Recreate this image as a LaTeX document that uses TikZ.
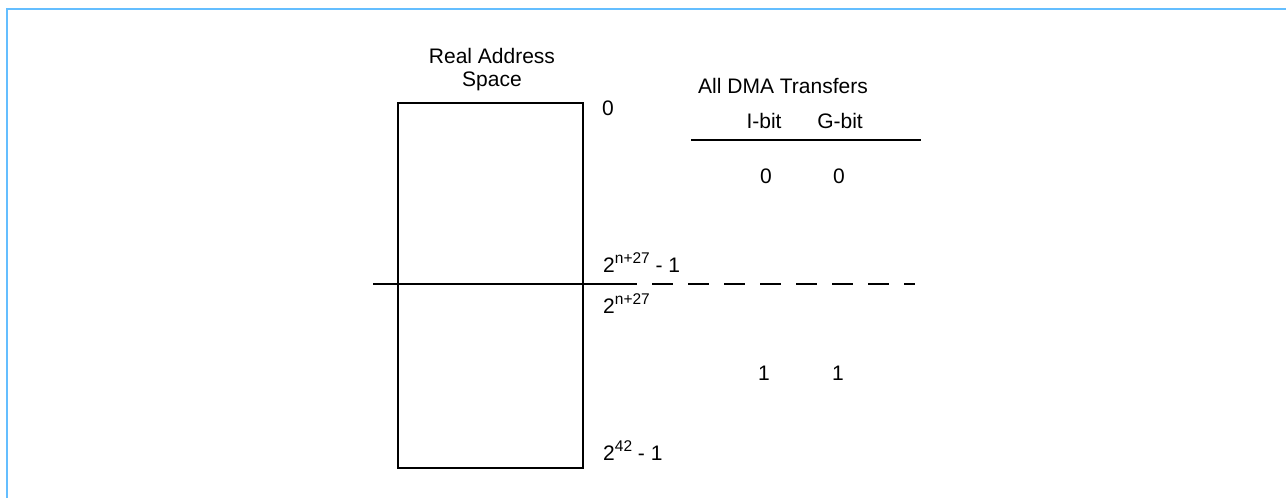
\documentclass[tikz,border=0pt]{standalone}
\usepackage{fontspec}
\setmainfont{Liberation Sans}
\definecolor{frameblue}{RGB}{100,190,255}
\newcommand\supx[1]{\raisebox{0.42em}{\fontsize{15.5}{15.5}\selectfont #1}}
\begin{document}
\begin{tikzpicture}[x=1pt,y=-1pt,
  lbl/.style={inner sep=0pt,font=\fontsize{21}{24}\selectfont},
  rule/.style={line width=1.8pt}]
\useasboundingbox (0,0) rectangle (1286,498);
% frame
\coordinate (f1) at (7,498);
\coordinate (f2) at (7,9);
\coordinate (f3) at (1286,9);
\draw[frameblue,line width=2pt] (f1) -- (f2) -- (f3);
% address space box
\node[draw,rule,minimum width=185pt,minimum height=365pt,outer sep=0pt,inner sep=0pt,anchor=north west] (box) at (398,103) {};
% boundary line
\coordinate (hA) at (373,284);
\coordinate (hB) at (637,284);
\coordinate (hC) at (652,284);
\coordinate (hD) at (915,284);
\draw[rule] (hA) -- (hB);
\draw[rule,dash pattern=on 21pt off 15pt] (hC) -- (hD);
% table rule
\coordinate (tA) at (691,140);
\coordinate (tB) at (921,140);
\draw[rule] (tA) -- (tB);
% texts
\node[lbl,anchor=base] (ras1) at (492,63) {Real Address};
\node[lbl,anchor=base] (ras2) at (492,86) {Space};
\node[lbl,anchor=base west] (l0) at (602,115) {0};
\node[lbl,anchor=base west] (l1) at (603,272) {2\supx{n+27} - 1};
\node[lbl,anchor=base west] (l2) at (603,313) {2\supx{n+27}};
\node[lbl,anchor=base west] (l3) at (603,460) {2\supx{42} - 1};
\node[lbl,anchor=base west] (dma) at (698,93) {All DMA Transfers};
\node[lbl,anchor=base] (ib) at (764,128) {I-bit};
\node[lbl,anchor=base] (gb) at (840,128) {G-bit};
\node[lbl,anchor=base] (i0) at (766,183) {0};
\node[lbl,anchor=base] (g0) at (839,183) {0};
\node[lbl,anchor=base] (i1) at (764,380) {1};
\node[lbl,anchor=base] (g1) at (838,380) {1};
\end{tikzpicture}
\end{document}
